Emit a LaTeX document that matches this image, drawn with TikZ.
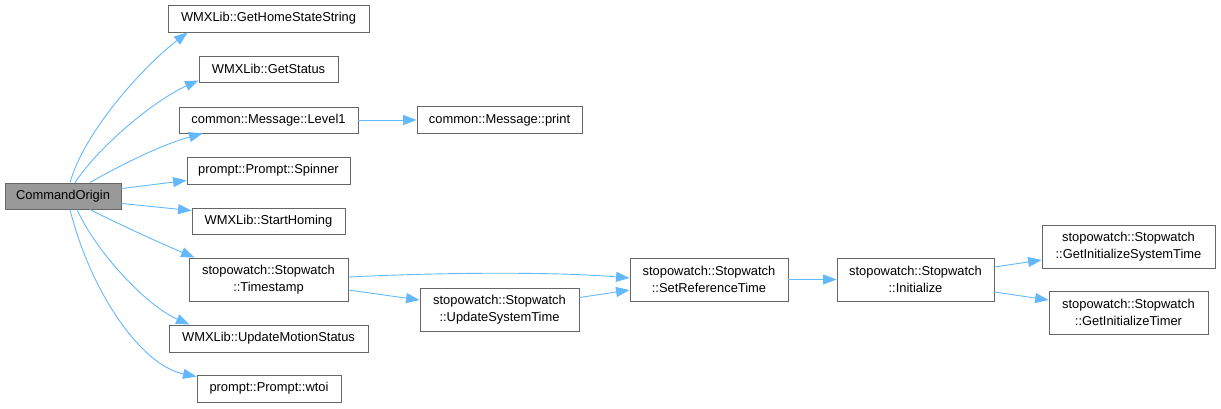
\documentclass[tikz,border=0pt]{standalone}
\usepackage{fontspec}
\setmainfont{Liberation Sans}
\usetikzlibrary{arrows.meta}
\definecolor{edgeblue}{HTML}{63B8FF}
\definecolor{boxborder}{HTML}{666666}
\definecolor{mainfill}{HTML}{999999}
\tikzset{
  fnbox/.style={draw=boxborder, line width=0.9pt, fill=white, inner sep=0pt, align=center,
    font=\fontsize{12.9}{16.5}\selectfont, text=black},
  mainbox/.style={fnbox, fill=mainfill},
  calledge/.style={draw=edgeblue, line width=0.9pt, -{Triangle[length=13.5pt,width=10pt]}},
}
\begin{document}
\begin{tikzpicture}[x=1pt,y=-1pt]
\useasboundingbox (0,0) rectangle (1221,408);
% nodes
\node[mainbox, minimum width=116pt, minimum height=26pt] (co) at (63,196) {CommandOrigin};
\node[fnbox, minimum width=201pt, minimum height=27pt] (home) at (268.5,18.5) {WMXLib::GetHomeStateString};
\node[fnbox, minimum width=139pt, minimum height=26pt] (status) at (268.5,69) {WMXLib::GetStatus};
\node[fnbox, minimum width=179pt, minimum height=26pt] (level) at (268.5,120) {common::Message::Level1};
\node[fnbox, minimum width=163pt, minimum height=27pt] (spin) at (268.5,170.5) {prompt::Prompt::Spinner};
\node[fnbox, minimum width=153pt, minimum height=26pt] (homing) at (268.5,221) {WMXLib::StartHoming};
\node[fnbox, minimum width=159pt, minimum height=43pt] (ts) at (268.5,279.5) {stopowatch::Stopwatch\\::Timestamp};
\node[fnbox, minimum width=199pt, minimum height=27pt] (ums) at (268.5,338.5) {WMXLib::UpdateMotionStatus};
\node[fnbox, minimum width=144pt, minimum height=27pt] (wtoi) at (269,388.5) {prompt::Prompt::wtoi};
\node[fnbox, minimum width=165pt, minimum height=27pt] (print) at (499.5,120) {common::Message::print};
\node[fnbox, minimum width=159pt, minimum height=43pt] (ust) at (499.5,309.5) {stopowatch::Stopwatch\\::UpdateSystemTime};
\node[fnbox, minimum width=158pt, minimum height=43pt] (srt) at (709,279.5) {stopowatch::Stopwatch\\::SetReferenceTime};
\node[fnbox, minimum width=157pt, minimum height=43pt] (init) at (915.5,279.5) {stopowatch::Stopwatch\\::Initialize};
\node[fnbox, minimum width=173pt, minimum height=43pt] (gist) at (1128.5,246.5) {stopowatch::Stopwatch\\::GetInitializeSystemTime};
\node[fnbox, minimum width=159pt, minimum height=43pt] (git) at (1128.5,312.5) {stopowatch::Stopwatch\\::GetInitializeTimer};
% edges
\draw[calledge] ([xshift=7pt]co.north) .. controls (85,130) and (145,65) .. ([xshift=20pt]home.south west);
\draw[calledge] ([xshift=12pt]co.north) .. controls (100,145) and (155,100) .. ([yshift=2pt]status.south west);
\draw[calledge] ([xshift=27pt]co.north) .. controls (115,168) and (160,145) .. ([xshift=24pt]level.south west);
\draw[calledge] ([yshift=-6pt]co.north east) -- ([yshift=4pt]spin.south west);
\draw[calledge] ([yshift=6pt]co.south east) -- ([yshift=-3pt]homing.north west);
\draw[calledge] ([xshift=27pt]co.south) .. controls (110,220) and (160,243) .. ([xshift=6pt]ts.north west);
\draw[calledge] ([xshift=14pt]co.south) .. controls (95,250) and (145,305) .. ([xshift=21pt]ums.north west);
\draw[calledge] ([xshift=7pt]co.south) .. controls (90,290) and (140,365) .. ([yshift=-2pt]wtoi.north west);
\draw[calledge] (level.east) -- (print.west);
\draw[calledge] ([yshift=2.5pt]ts.east) .. controls (450,272) and (560,272) .. ([yshift=1.5pt]srt.west);
\draw[calledge] ([yshift=-10.5pt]ts.east) -- ([yshift=9.5pt]ust.west);
\draw[calledge] ([yshift=12pt]ust.east) -- ([yshift=-10.5pt]srt.west);
\draw[calledge] (srt.east) -- (init.west);
\draw[calledge] ([yshift=12.5pt]init.east) -- ([yshift=-13.5pt]gist.west);
\draw[calledge] ([yshift=-12.5pt]init.east) -- ([yshift=12.5pt]git.west);
\end{tikzpicture}
\end{document}
